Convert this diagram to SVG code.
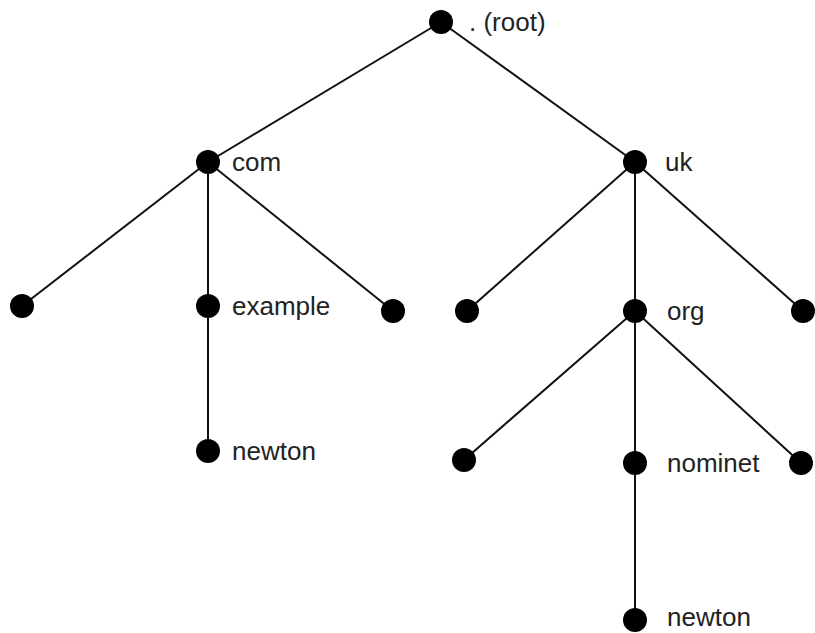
<svg xmlns="http://www.w3.org/2000/svg" width="815" height="633" viewBox="0 0 815 633">
  <style>
    .edge { stroke: #111; stroke-width: 2; fill: none; }
    .dot { fill: #000; }
    .label { font-family: "Liberation Sans", Arial, sans-serif; font-size: 26px; fill: #222; }
  </style>
  <rect width="815" height="633" fill="#fff"/>
  <!-- connectors -->
  <g id="edges">
    <line class="edge" x1="441" y1="22" x2="208" y2="162"/>
    <line class="edge" x1="441" y1="22" x2="635" y2="162"/>
    <line class="edge" x1="208" y1="162" x2="22" y2="306"/>
    <line class="edge" x1="208" y1="162" x2="208" y2="306"/>
    <line class="edge" x1="208" y1="162" x2="393" y2="311"/>
    <line class="edge" x1="208" y1="306" x2="208" y2="451"/>
    <line class="edge" x1="635" y1="162" x2="467" y2="311"/>
    <line class="edge" x1="635" y1="162" x2="635" y2="311"/>
    <line class="edge" x1="635" y1="162" x2="803" y2="311"/>
    <line class="edge" x1="635" y1="311" x2="464" y2="460"/>
    <line class="edge" x1="635" y1="311" x2="635" y2="463"/>
    <line class="edge" x1="635" y1="311" x2="801" y2="463"/>
    <line class="edge" x1="635" y1="463" x2="635" y2="620"/>
  </g>
  <!-- nodes -->
  <g id="root"><circle class="dot" cx="441" cy="22" r="12"/><text class="label" x="469" y="31">. (root)</text></g>
  <g id="com"><circle class="dot" cx="208" cy="162" r="12"/><text class="label" x="232" y="171">com</text></g>
  <g id="uk"><circle class="dot" cx="635" cy="162" r="12"/><text class="label" x="665" y="171">uk</text></g>
  <g id="com-left"><circle class="dot" cx="22" cy="306" r="12"/></g>
  <g id="example"><circle class="dot" cx="208" cy="306" r="12"/><text class="label" x="232" y="315">example</text></g>
  <g id="com-right"><circle class="dot" cx="393" cy="311" r="12"/></g>
  <g id="newton-com"><circle class="dot" cx="208" cy="451" r="12"/><text class="label" x="232" y="460">newton</text></g>
  <g id="uk-left"><circle class="dot" cx="467" cy="311" r="12"/></g>
  <g id="org"><circle class="dot" cx="635" cy="311" r="12"/><text class="label" x="667" y="320">org</text></g>
  <g id="uk-right"><circle class="dot" cx="803" cy="311" r="12"/></g>
  <g id="org-left"><circle class="dot" cx="464" cy="460" r="12"/></g>
  <g id="nominet"><circle class="dot" cx="635" cy="463" r="12"/><text class="label" x="667" y="472">nominet</text></g>
  <g id="org-right"><circle class="dot" cx="801" cy="463" r="12"/></g>
  <g id="newton-uk"><circle class="dot" cx="635" cy="620" r="12"/><text class="label" x="667" y="626">newton</text></g>
</svg>
